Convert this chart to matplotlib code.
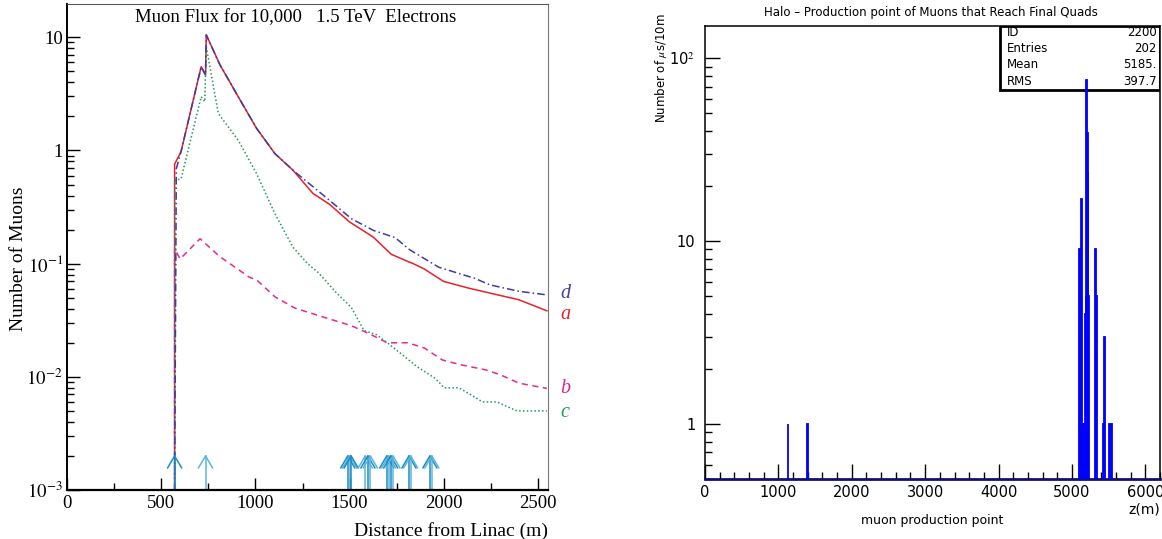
import numpy as np
import matplotlib
matplotlib.use("Agg")
import matplotlib.pyplot as plt
from matplotlib.ticker import FixedLocator, FuncFormatter, MultipleLocator, NullFormatter

plt.rcParams['mathtext.fontset'] = 'stix'

# --- left panel: muon flux along the linac ---
a_x = [571, 571, 605, 712, 735, 739, 812, 909, 1006, 1103, 1199, 1306, 1393, 1499, 1625,
       1721, 1818, 1838, 1895, 1998, 2128, 2244, 2398, 2547]
a_y = [1e-3, 0.757, 0.977, 5.5, 4.64, 10.5, 5.7, 2.98, 1.57, 0.94, 0.67, 0.416, 0.335, 0.234,
       0.172, 0.121, 0.103, 0.1, 0.09, 0.0698, 0.061, 0.055, 0.048, 0.0383]

b_x = [571, 571, 600, 706, 812, 967, 1006, 1103, 1209, 1354, 1509, 1605, 1702, 1741, 1808,
       1896, 1992, 2089, 2224, 2302, 2398, 2547]
b_y = [1e-3, 0.136, 0.11, 0.166, 0.115, 0.076, 0.072, 0.051, 0.0405, 0.034, 0.0283, 0.024,
       0.0199, 0.020, 0.020, 0.018, 0.0141, 0.0128, 0.0115, 0.0104, 0.0088, 0.0079]

c_x = [571, 571, 605, 712, 731, 739, 803, 909, 1006, 1103, 1199, 1277, 1335, 1431, 1509,
       1576, 1644, 1702, 1779, 1857, 1954, 2002, 2079, 2128, 2205, 2282, 2321, 2389, 2547]
c_y = [1e-3, 0.546, 0.56, 2.98, 2.7, 8.27, 2.12, 1.23, 0.625, 0.277, 0.14, 0.1, 0.083, 0.055,
       0.041, 0.0257, 0.0235, 0.0199, 0.0157, 0.0123, 0.0097, 0.0080, 0.0080, 0.0072, 0.0060,
       0.0060, 0.0056, 0.0050, 0.0050]

d_x = [571, 580, 605, 712, 735, 739, 812, 909, 1006, 1103, 1199, 1306, 1393, 1509, 1625,
       1741, 1818, 1973, 2166, 2244, 2398, 2547]
d_y = [1e-3, 0.69, 0.977, 5.5, 4.64, 10.5, 5.7, 2.98, 1.57, 0.94, 0.67, 0.478, 0.363, 0.25,
       0.197, 0.17, 0.133, 0.093, 0.074, 0.065, 0.057, 0.053]

arrow_x = [571, 735, 1490, 1500, 1508, 1583, 1597, 1610, 1697, 1707, 1718, 1730, 1815, 1824,
           1926, 1936]

# --- right panel: histogram of muon production points (10 m bins) ---
bin_z = [1130, 1400, 5100, 5110, 5120, 5130, 5140, 5150, 5160, 5170, 5180, 5190, 5200, 5210,
         5220, 5230, 5320, 5330, 5430, 5440, 5510, 5540]
bin_n = [1, 1, 9, 1, 1, 17, 1, 1, 1, 1, 4, 5, 76, 39, 24, 5, 9, 5, 1, 3, 1, 1]

stats_names = ["ID", "Entries", "Mean", "RMS"]
stats_vals = ["2200", "202", "5185.", "397.7"]

serif = ['Liberation Serif', 'DejaVu Serif']

fig = plt.figure(figsize=(11.62, 5.39), dpi=100)

ax = fig.add_axes([0.0577, 0.0909, 0.4139, 0.9017])
ax.set_yscale('log')
ax.set_xlim(0, 2553)
ax.set_ylim(1e-3, 19.7)

ax.plot(a_x, a_y, color='#e8202a', lw=1.1, ls='-')
ax.plot(b_x, b_y, color='#e8288c', lw=1.1, ls=(0, (4, 3)))
ax.plot(c_x, c_y, color='#1f9a5c', lw=1.1, ls=(0, (1, 1.5)))
ax.plot(d_x, d_y, color='#3c3ca0', lw=1.1, ls=(0, (5, 2, 1, 2)))

# quadrupole markers (open arrows)
for i, x in enumerate(arrow_x):
    col = '#1a8cc4' if i % 2 == 0 else '#5cb4dc'
    ax.plot([x, x], [1e-3, 2e-3], color=col, lw=1.1)
    ax.plot([x - 37, x, x + 37], [1.57e-3, 2e-3, 1.57e-3], color=col, lw=1.1)

ax.xaxis.set_major_locator(MultipleLocator(500))
ax.xaxis.set_minor_locator(MultipleLocator(250))
ax.yaxis.set_major_locator(FixedLocator([1e-3, 1e-2, 1e-1, 1, 10]))
ax.yaxis.set_minor_locator(FixedLocator([m * 10.0 ** e for e in range(-3, 2) for m in range(2, 10)]))
ax.yaxis.set_minor_formatter(NullFormatter())


def left_fmt(v, pos):
    e = int(round(np.log10(v)))
    if e == 0:
        return "1"
    if e == 1:
        return "10"
    return r"$10^{%d}$" % e


ax.yaxis.set_major_formatter(FuncFormatter(left_fmt))
ax.tick_params(which='both', direction='in', top=False, right=False, labelsize=13.5)
ax.tick_params(axis='y', pad=3)
ax.tick_params(which='major', length=9, width=1)
ax.tick_params(which='minor', length=5, width=1)
for lab in ax.get_xticklabels() + ax.get_yticklabels():
    lab.set_family(serif)
ax.spines['bottom'].set_linewidth(1.6)
ax.spines['left'].set_linewidth(1.4)
ax.spines['top'].set_color('#555555')
ax.spines['right'].set_color('#777777')

fig.text(0.016, 0.52, "Number of Muons", rotation=90, ha='center', va='center',
         family=serif, fontsize=14)
ax.text(1.0, -0.085, "Distance from Linac (m)", transform=ax.transAxes, ha='right', va='center',
        family=serif, fontsize=14)
ax.text(0.476, 0.971, "Muon Flux for 10,000   1.5 TeV  Electrons", transform=ax.transAxes,
        ha='center', va='center', family=serif, fontsize=13.5)

for lab, yv, col, dy in [("d", d_y[-1], '#4040a8', 1), ("a", a_y[-1], '#e8202a', -3),
                         ("b", b_y[-1], '#e0208a', 0), ("c", c_y[-1], '#1f9a5c', -1)]:
    ax.annotate(lab, xy=(1.025, yv), xycoords=ax.get_yaxis_transform(),
                xytext=(0, dy), textcoords='offset points', ha='left', va='center',
                family=serif, style='italic', fontsize=14.5, color=col)

# --- right panel ---
ax2 = fig.add_axes([0.6067, 0.1113, 0.3916, 0.8404])
ax2.set_yscale('log')
ax2.set_xlim(0, 6200)
ax2.set_ylim(0.5, 150)
ax2.bar(bin_z, bin_n, width=10, color='#0000ff', edgecolor='#0000ff', lw=1.3, zorder=3)

ax2.xaxis.set_major_locator(MultipleLocator(1000))
ax2.xaxis.set_minor_locator(MultipleLocator(200))
ax2.yaxis.set_major_locator(FixedLocator([1, 10, 100]))
ax2.yaxis.set_minor_locator(FixedLocator([m * 10.0 ** e for e in range(-1, 3) for m in range(2, 10)]))
ax2.yaxis.set_minor_formatter(NullFormatter())
ax2.yaxis.set_major_formatter(FuncFormatter(
    lambda v, p: {1: "1", 10: "10", 100: r"10$^{2}$"}.get(int(round(v)), "")))
ax2.tick_params(which='both', direction='in', top=False, right=False, labelsize=10.5)
ax2.tick_params(axis='x', pad=4)
ax2.tick_params(axis='y', pad=7)
ax2.tick_params(which='major', length=11, width=1)
ax2.tick_params(which='minor', length=5, width=1)
for s in ax2.spines.values():
    s.set_linewidth(1.1)
ax2.spines['bottom'].set_color('#101070')
ax2.spines['bottom'].set_linewidth(2)

fig.text(0.5688, 0.975, r"Number of $\mu$s/10m", rotation=90, ha='center', va='top', fontsize=8.5)
ax2.text(1.0, -0.068, "z(m)", transform=ax2.transAxes, ha='right', va='center', fontsize=10)
ax2.text(0.5, -0.092, "muon production point", transform=ax2.transAxes, ha='center',
         va='center', fontsize=9)
ax2.text(0.497, 1.015, "Halo – Production point of Muons that Reach Final Quads",
         transform=ax2.transAxes, ha='center', va='bottom', fontsize=8.5)

box = plt.Rectangle((0.648, 0.858), 0.352, 0.142, transform=ax2.transAxes, facecolor='white',
                    edgecolor='black', lw=2, zorder=2)
ax2.add_patch(box)
for i, (nm, vl) in enumerate(zip(stats_names, stats_vals)):
    yy = 0.985 - i * 0.0355
    ax2.text(0.664, yy, nm, transform=ax2.transAxes, ha='left', va='center', fontsize=8.5,
             zorder=4)
    ax2.text(0.993, yy, vl, transform=ax2.transAxes, ha='right', va='center', fontsize=8.5,
             zorder=4)

fig.savefig("out.png", dpi=100)
